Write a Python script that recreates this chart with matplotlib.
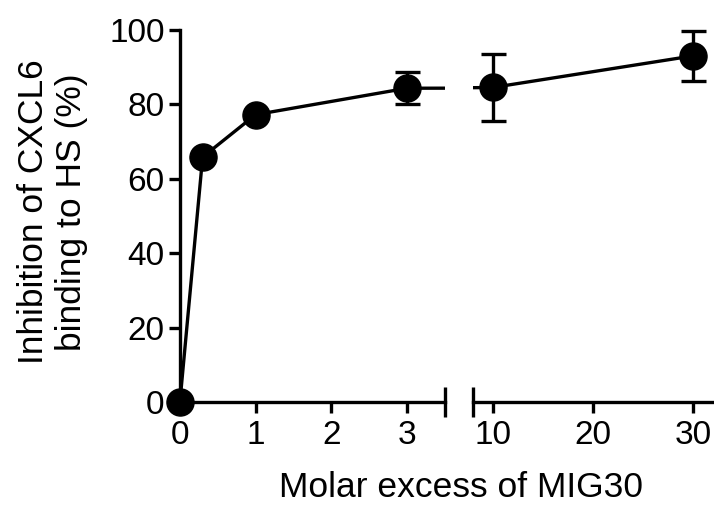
import numpy as np
import matplotlib
matplotlib.use("Agg")
import matplotlib.pyplot as plt

##### Data #####
molar_excess = [0, 0.3, 1, 3, 10, 30]
inhibition = [0.0, 65.8, 77.2, 84.3, 84.5, 93.0]
inhibition_err = [0.0, 0.0, 0.0, 4.3, 9.0, 6.8]

left_ticks = [0, 1, 2, 3]
right_ticks = [10, 20, 30]
y_ticks = [0, 20, 40, 60, 80, 100]

plt.rcParams['font.family'] = ['Liberation Sans', 'DejaVu Sans']
plt.rcParams['font.size'] = 24

LW = 2.4
fig = plt.figure(figsize=(7.14, 5.05), dpi=100)
ax1 = fig.add_axes([0.252, 0.204, 0.371, 0.737])
ax2 = fig.add_axes([0.662, 0.204, 0.337, 0.737])

x = np.array(molar_excess)
y = np.array(inhibition)
e = np.array(inhibition_err)

for ax, (lo, hi), ticks in [(ax1, (0, 3.5), left_ticks), (ax2, (8, 32), right_ticks)]:
    # connecting line, clipped at the axis break
    ax.plot(x, y, color='k', lw=LW, zorder=2)
    inside = (x >= lo) & (x <= hi)
    ax.errorbar(x[inside], y[inside], yerr=e[inside], fmt='o', color='k',
                ms=19.5, elinewidth=LW, capsize=9, capthick=LW,
                clip_on=False, zorder=3)
    ax.set_xlim(lo, hi)
    ax.set_ylim(0, 100)
    ax.set_xticks(ticks)
    ax.set_xticklabels([str(t) for t in ticks])
    for side in ['top', 'right']:
        ax.spines[side].set_visible(False)
    ax.spines['bottom'].set_linewidth(LW)
    ax.spines['left'].set_linewidth(LW)
    ax.tick_params(axis='both', width=LW, length=8, direction='out')
    ax.tick_params(axis='x', pad=5)
    ax.tick_params(axis='y', pad=3)

# end bars at the break
ax1.plot([3.5], [0], marker='|', ms=21, mew=LW, color='k', clip_on=False)
ax2.plot([8], [0], marker='|', ms=21, mew=LW, color='k', clip_on=False)

ax1.set_yticks(y_ticks)
ax2.spines['left'].set_visible(False)
ax2.set_yticks([])

fig.text(0.073, 0.58, 'Inhibition of CXCL6\nbinding to HS (%)', fontsize=25.5,
         rotation=90, ha='center', va='center', multialignment='center')
fig.text(0.646, 0.016, 'Molar excess of MIG30', fontsize=25.5,
         ha='center', va='baseline')

fig.savefig('out.png', dpi=100)
